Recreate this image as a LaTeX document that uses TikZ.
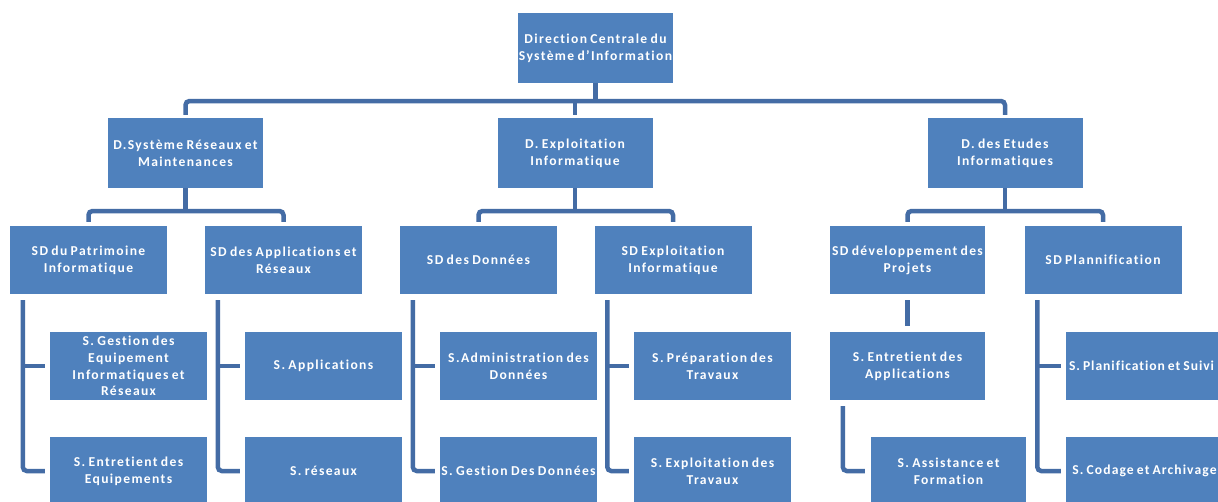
\documentclass[tikz,border=0pt]{standalone}
\usepackage{fontspec}
\setmainfont{Carlito}[LetterSpace=10, WordSpace=0.75, Ligatures={NoCommon}]
\usetikzlibrary{calc}
\definecolor{boxblue}{RGB}{79,129,189}
\definecolor{linkblue}{RGB}{68,108,165}
\newcommand\ov[1]{\makebox[0pt]{#1}}
\begin{document}
\begin{tikzpicture}[x=1pt,y=-1pt,
  bx/.style={fill=boxblue, text=white, font=\bfseries\fontsize{13.6}{16.8}\selectfont,
    align=center, inner sep=0pt, minimum width=157pt, minimum height=68pt},
  topbx/.style={bx, minimum width=155pt, minimum height=70pt},
  conn/.style={draw=linkblue, line width=4.5pt, rounded corners=4pt}]
\useasboundingbox (0,0) rectangle (1218,501);
\clip (0,0) rectangle (1218,501);
\fill[white] (0,0) rectangle (1218,501);

% level 0
\node[topbx] (top) at (595.5,48) {\ov{Direction Centrale du}\\\ov{Système d'Information}};
% level 1
\node[topbx] (d1) at (185.5,153) {\ov{D.Système Réseaux et}\\Maintenances};
\node[topbx] (d2) at (575,153) {D. Exploitation\\Informatique};
\node[topbx] (d3) at (1005,153) {D. des Etudes\\Informatiques};
% level 2
\node[bx] (sd1) at (88.5,260) {SD du Patrimoine\\Informatique};
\node[bx] (sd2) at (283.5,260) {\ov{SD des Applications et}\\Réseaux};
\node[bx] (sd3) at (478.5,260) {SD des Données};
\node[bx] (sd4) at (673,260) {SD Exploitation\\Informatique};
\node[bx, minimum width=155pt] (sd5) at (907.5,260) {\ov{SD développement des}\\Projets};
\node[bx] (sd6) at (1103,260) {SD Plannification};
% level 3
\node[bx] (g1) at (128.5,366) {S. Gestion des\\Equipement\\\ov{Informatiques et}\\Réseaux};
\node[bx] (g2) at (128.5,471) {\ov{S. Entretient des}\\Equipements};
\node[bx] (a1) at (323.5,366) {S. Applications};
\node[bx] (a2) at (323.5,471) {S. réseaux};
\node[bx] (b1) at (518.5,366) {\ov{S.Administration des}\\Données};
\node[bx] (b2) at (518.5,471) {\ov{S. Gestion Des Données}};
\node[bx] (c1) at (712.5,366) {\ov{S. Préparation des}\\Travaux};
\node[bx] (c2) at (712.5,471) {\ov{S. Exploitation des}\\Travaux};
\node[bx, minimum width=155pt] (e1) at (907.5,366) {\ov{S. Entretient des}\\Applications};
\node[bx, minimum width=155pt] (e2) at (948.5,471) {S. Assistance et\\Formation};
\node[bx] (f1) at (1144.5,366) {\ov{\hspace*{-6pt}\addfontfeature{LetterSpace=7}S. Planification et Suivi}};
\node[bx] (f2) at (1144.5,471) {\ov{\addfontfeature{LetterSpace=8}S. Codage et Archivage}};

\coordinate (bar) at (0,101);
\coordinate (gb) at (0,211);

% top connectors
\draw[conn] (top.south) -- (top.south |- bar);
\draw[conn, shorten <=3pt, shorten >=3pt] (d1.north) |- (d2.north |- bar) -| (d3.north);
\draw[conn, shorten >=3pt] (d2.north |- bar) -- (d2.north);

% group connectors
\draw[conn, shorten <=4pt, shorten >=4pt] (sd1.north) |- (d1.south |- gb) -| (sd2.north);
\draw[conn] (d1.south) -- (d1.south |- gb);
\draw[conn, shorten <=4pt, shorten >=4pt] (sd3.north) |- (d2.south |- gb) -| (sd4.north);
\draw[conn] (d2.south) -- (d2.south |- gb);
\draw[conn, shorten <=4pt, shorten >=4pt] (sd5.north) |- (d3.south |- gb) -| (sd6.north);
\draw[conn] (d3.south) -- (d3.south |- gb);

% children connectors
\foreach \p/\u/\v in {sd1/g1/g2, sd2/a1/a2, sd3/b1/b2, sd4/c1/c2, sd6/f1/f2}{
  \draw[conn] ([xshift=13pt,yshift=-6pt]\p.south west) |- ([xshift=-5pt]\v.west);
  \draw[conn] ([xshift=13pt]\p.south west |- \u.west) -- ([xshift=-5pt]\u.west);
}
\draw[conn, shorten <=6pt, shorten >=6pt] (sd5.south) -- (e1.north);
\draw[conn] ([xshift=13pt,yshift=-6pt]e1.south west) |- ([xshift=-6pt]e2.west);
\end{tikzpicture}
\end{document}
